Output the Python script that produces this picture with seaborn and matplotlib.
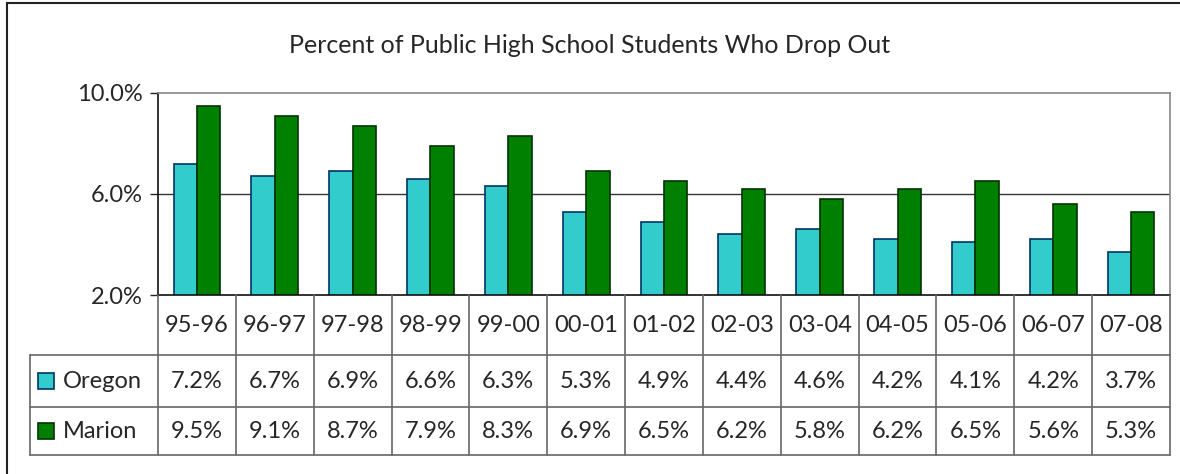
import numpy as np
import pandas as pd
import matplotlib
matplotlib.use("Agg")
import matplotlib.pyplot as plt
import seaborn as sns
from matplotlib.patches import Rectangle

# data
years = ["95-96", "96-97", "97-98", "98-99", "99-00", "00-01", "01-02",
         "02-03", "03-04", "04-05", "05-06", "06-07", "07-08"]
oregon = [7.2, 6.7, 6.9, 6.6, 6.3, 5.3, 4.9, 4.4, 4.6, 4.2, 4.1, 4.2, 3.7]
marion = [9.5, 9.1, 8.7, 7.9, 8.3, 6.9, 6.5, 6.2, 5.8, 6.2, 6.5, 5.6, 5.3]
series = ["Oregon", "Marion"]
colors = {"Oregon": "#33CCCC", "Marion": "#008000"}
edges = {"Oregon": "#003366", "Marion": "#003300"}
yticks = [2.0, 6.0, 10.0]

df = pd.DataFrame({
    "year": years * 2,
    "value": oregon + marion,
    "series": ["Oregon"] * len(years) + ["Marion"] * len(years),
})

sns.set_style("white")
plt.rcParams["font.family"] = ["Lato", "DejaVu Sans"]

W, H = 1180, 474
fig = plt.figure(figsize=(W / 100, H / 100), dpi=100)

# pixel layout
left, right, top, xaxis = 158, 1170, 93, 295
tab_left, tab_bottom = 30, 455
fs = 17

ax = fig.add_axes([left / W, 1 - xaxis / H, (right - left) / W, (xaxis - top) / H])
sns.barplot(data=df, x="year", y="value", hue="series", palette=colors,
            width=0.6, legend=False, ax=ax, saturation=1)
for cont, s in zip(ax.containers, series):
    for p in cont:
        p.set_edgecolor(edges[s])
        p.set_linewidth(1.2)

ax.set_ylim(2, 10)
ax.set_xlim(-0.5, len(years) - 0.5)
ax.set_yticks(yticks)
ax.set_yticklabels([f"{v:.1f}%" for v in yticks], fontsize=fs)
ax.set_xticks([])
ax.set_xlabel("")
ax.set_ylabel("")
ax.axhline(6, color="#333333", lw=1, zorder=0)
ax.tick_params(axis="y", left=True, length=6, width=1, color="#222222", pad=5)
for side in ["left", "bottom"]:
    ax.spines[side].set_color("#111111")
    ax.spines[side].set_linewidth(1.2)
for side in ["top", "right"]:
    ax.spines[side].set_color("#888888")
    ax.spines[side].set_linewidth(1.2)

# data table below the bars
cat_w = (right - left) / len(years)
tab = fig.add_axes([tab_left / W, 1 - tab_bottom / H,
                    (right - tab_left) / W, (tab_bottom - xaxis) / H])
tab.set_xlim(-0.5 - (left - tab_left) / cat_w, len(years) - 0.5)
tab.set_ylim(0, 160)
tab.axis("off")

rows = [(100, 160), (48, 100), (0, 48)]  # header, Oregon, Marion
grid_c = "#666666"
x0 = -0.5 - (left - tab_left) / cat_w
for i in range(len(years) + 1):
    tab.plot([i - 0.5, i - 0.5], [0, 160], color=grid_c, lw=1.2, clip_on=False)
tab.plot([x0, x0], [0, 100], color=grid_c, lw=1.2, clip_on=False)
for yv in [0, 48, 100]:
    tab.plot([x0, len(years) - 0.5], [yv, yv], color=grid_c, lw=1.2, clip_on=False)

for i, y in enumerate(years):
    tab.text(i, 130, y, ha="center", va="center", fontsize=fs)
for (lo, hi), s, vals in zip(rows[1:], series, [oregon, marion]):
    mid = (lo + hi) / 2
    for i, v in enumerate(vals):
        tab.text(i, mid, f"{v:.1f}%", ha="center", va="center", fontsize=fs)
    tab.plot([x0 + 0.2], [mid], marker="s", markersize=12,
             markerfacecolor=colors[s], markeredgecolor=edges[s],
             markeredgewidth=1.2, clip_on=False)
    tab.text(x0 + 0.42, mid, s, ha="left", va="center", fontsize=fs)

fig.text(0.5, 1 - 45 / H, "Percent of Public High School Students Who Drop Out",
         ha="center", va="center", fontsize=18)

# outer chart border (top and left visible)
fig.patches.append(Rectangle((7 / W, -0.1), 1.2, 1 - 3 / H + 0.1,
                             transform=fig.transFigure, fill=False,
                             edgecolor="#222222", lw=1.5))

fig.savefig("out.png", dpi=100)
